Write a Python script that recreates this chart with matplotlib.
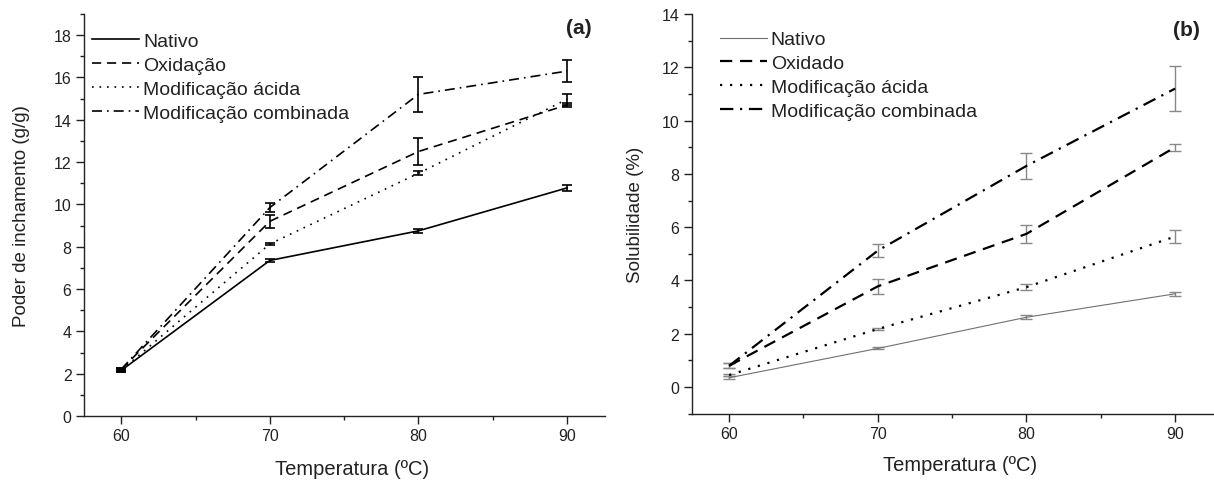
import matplotlib.pyplot as plt
from matplotlib.ticker import MultipleLocator

plt.rcParams['font.family'] = ['Liberation Sans', 'DejaVu Sans']

temps = [60, 70, 80, 90]
labels_a = ['Nativo', 'Oxidação', 'Modificação ácida', 'Modificação combinada']
labels_b = ['Nativo', 'Oxidado', 'Modificação ácida', 'Modificação combinada']

# (a) poder de inchamento (g/g)
sw_nativo = [2.15, 7.35, 8.75, 10.78]
sw_nativo_err = [0.08, 0.05, 0.08, 0.15]
sw_oxid = [2.2, 9.2, 12.5, 14.7]
sw_oxid_err = [0.08, 0.3, 0.63, 0.1]
sw_acida = [2.15, 8.13, 11.47, 14.97]
sw_acida_err = [0.08, 0.05, 0.1, 0.25]
sw_comb = [2.2, 9.85, 15.2, 16.3]
sw_comb_err = [0.08, 0.2, 0.83, 0.52]

# (b) solubilidade (%)
sol_nativo = [0.35, 1.45, 2.62, 3.5]
sol_nativo_err = [0.05, 0.04, 0.07, 0.07]
sol_oxid = [0.8, 3.78, 5.75, 9.0]
sol_oxid_err = [0.1, 0.28, 0.34, 0.14]
sol_acida = [0.45, 2.18, 3.75, 5.65]
sol_acida_err = [0.05, 0.05, 0.12, 0.23]
sol_comb = [0.8, 5.12, 8.3, 11.2]
sol_comb_err = [0.1, 0.24, 0.49, 0.85]

fig = plt.figure(figsize=(12.14, 4.81), dpi=100)
ax1 = fig.add_axes([0.0692, 0.1331, 0.4292, 0.8358])
ax2 = fig.add_axes([0.570, 0.1378, 0.4292, 0.831])

styles = ['-', (0, (5.5, 3.5)), (0, (1, 3.5)), (0, (6, 3, 1, 3))]

# panel (a)
series_a = [(sw_nativo, sw_nativo_err), (sw_oxid, sw_oxid_err),
            (sw_acida, sw_acida_err), (sw_comb, sw_comb_err)]
for (vals, err), ls, lab in zip(series_a, styles, labels_a):
    ax1.errorbar(temps, vals, yerr=err, color='black', linestyle=ls, linewidth=1.2,
                 elinewidth=1.2, capsize=3.5, capthick=1.2, label=lab)

# panel (b)
series_b = [(sol_nativo, sol_nativo_err), (sol_oxid, sol_oxid_err),
            (sol_acida, sol_acida_err), (sol_comb, sol_comb_err)]
for i, ((vals, err), ls, lab) in enumerate(zip(series_b, styles, labels_b)):
    lw = 0.8 if i == 0 else 1.6
    col = '#707070' if i == 0 else 'black'
    ax2.errorbar(temps, vals, yerr=err, color=col, ecolor='#888888',
                 linestyle=ls, linewidth=lw, elinewidth=1.0,
                 capsize=4, capthick=1.0, label=lab)

for ax, ly in ((ax1, -0.107), (ax2, -0.103)):
    ax.set_xlim(57.5, 92.55)
    ax.xaxis.set_major_locator(MultipleLocator(10))
    ax.xaxis.set_minor_locator(MultipleLocator(5))
    ax.yaxis.set_major_locator(MultipleLocator(2))
    ax.yaxis.set_minor_locator(MultipleLocator(1))
    for s in ('top', 'right'):
        ax.spines[s].set_visible(False)
    for s in ('left', 'bottom'):
        ax.spines[s].set_linewidth(1.0)
        ax.spines[s].set_color('#222222')
    ax.tick_params(which='major', direction='out', length=6, width=1.0,
                   labelsize=11.5, colors='#222222', pad=3)
    ax.tick_params(which='minor', direction='out', length=3, width=1.0, colors='#222222')
    ax.set_xlabel('Temperatura (ºC)', fontsize=14.5, color='#222222')
    ax.xaxis.set_label_coords(0.515, ly)

ax1.set_ylim(0, 19)
ax2.set_ylim(-1, 14)

ax1.set_ylabel('Poder de inchamento (g/g)', fontsize=13.5, color='#222222', labelpad=17)
ax2.set_ylabel('Solubilidade (%)', fontsize=13.5, color='#222222', labelpad=13)

ax1.text(0.975, 0.99, '(a)', transform=ax1.transAxes, ha='right', va='top',
         fontsize=15, fontweight='bold', color='#222222')
ax2.text(0.975, 0.985, '(b)', transform=ax2.transAxes, ha='right', va='top',
         fontsize=15, fontweight='bold', color='#222222')

for ax, anchor in ((ax1, (-0.01, 0.9875)), (ax2, (0.028, 0.992))):
    handles, labs = ax.get_legend_handles_labels()
    handles = [h[0] for h in handles]
    ax.legend(handles, labs, loc='upper left', bbox_to_anchor=anchor, frameon=False,
              fontsize=14, handlelength=2.4, handletextpad=0.2, labelspacing=0.32,
              borderaxespad=0.3, labelcolor='#222222')

fig.savefig('out.png', dpi=100)
